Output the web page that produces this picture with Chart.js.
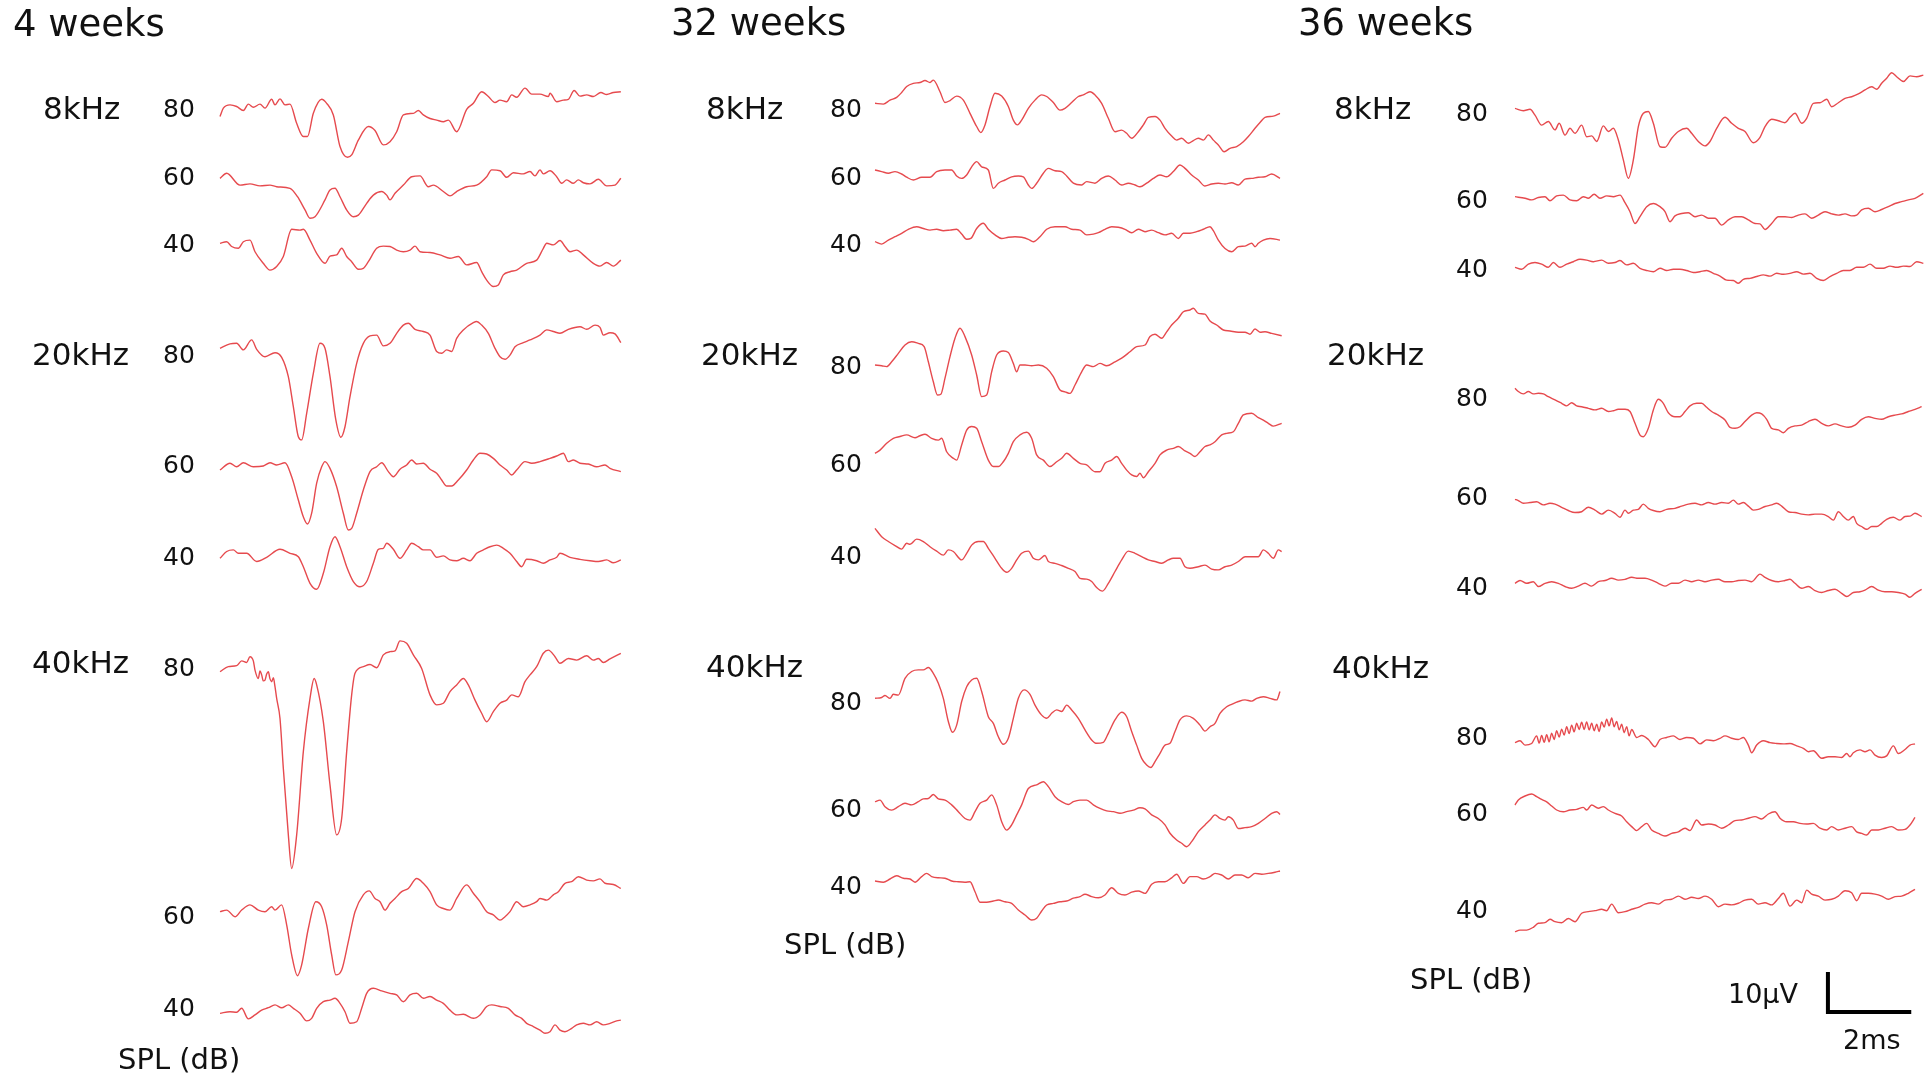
<!DOCTYPE html>
<html>
<head>
<meta charset="utf-8">
<script src="https://cdn.jsdelivr.net/npm/chart.js@4.4.1/dist/chart.umd.min.js"></script>
<style>
html, body { margin: 0; padding: 0; background: #fff; }
body { width: 1926px; height: 1081px; position: relative; overflow: hidden; font-family: "DejaVu Sans", Verdana, sans-serif; color: #111; }
canvas { position: absolute; top: 0; }
.lbl { position: absolute; white-space: nowrap; line-height: 1; transform: translateY(-50%); }
</style>
</head>
<body>
<canvas id="p4" width="640" height="1081" style="left:0px"></canvas>
<canvas id="p32" width="640" height="1081" style="left:655px"></canvas>
<canvas id="p36" width="631" height="1081" style="left:1295px"></canvas>
<script>
// Etiquetas del gráfico
const ages = ['4 weeks', '32 weeks', '36 weeks'];
const freqs = ['8kHz', '20kHz', '40kHz'];
const levels = ['80', '60', '40'];
const axisLabel = 'SPL (dB)';
const scaleBarUV = 10;
const scaleBarMs = 2;

// Trazos ABR: [tiempo (ms), amplitud (µV)]
// 4 semanas
const w4_8k_80 = [[0,-0.8],[0.08,1.3],[0.24,2.1],[0.4,1.7],[0.56,0.7],[0.68,2.3],[0.8,1.5],[0.96,2.3],[1.08,1.3],[1.24,3.5],[1.32,2.1],[1.44,3.6],[1.56,2.1],[1.68,2.3],[1.84,-2.5],[2.0,-5.8],[2.1,-5.8],[2.24,0],[2.44,3.5],[2.56,2.5],[2.72,-0.4],[2.88,-8.3],[3.06,-11],[3.16,-10.4],[3.32,-6.7],[3.56,-3.3],[3.72,-4.3],[3.92,-7.9],[4.08,-7.1],[4.24,-4.6],[4.4,-0.4],[4.64,0],[4.76,0.7],[4.88,-0.4],[5.04,-1.3],[5.2,-1.7],[5.36,-2.1],[5.48,-1.7],[5.68,-4.6],[5.92,1.0],[6.08,2.5],[6.28,5.4],[6.44,4.2],[6.6,2.7],[6.72,3.3],[6.88,2.9],[7.0,4.6],[7.12,4.0],[7.32,6.3],[7.48,4.8],[7.68,4.8],[7.88,4.2],[7.92,5.0],[8.08,2.9],[8.24,3.3],[8.36,3.5],[8.5,5.7],[8.64,4.3],[8.8,4.6],[8.96,4.2],[9.14,5.2],[9.28,4.7],[9.44,5.2],[9.62,5.4]];
const w4_8k_60 = [[0,0],[0.16,1.25],[0.48,-1.7],[0.72,-1.4],[0.96,-1.9],[1.2,-1.7],[1.36,-2.1],[1.68,-2.5],[1.86,-4.6],[2.04,-7.9],[2.16,-10],[2.28,-9.6],[2.52,-5.4],[2.64,-2.9],[2.76,-2.5],[2.88,-4.6],[3.04,-7.9],[3.2,-9.6],[3.32,-9.2],[3.52,-6.25],[3.68,-4.2],[3.88,-3.3],[4.0,-4.2],[4.08,-5.4],[4.2,-3.75],[4.4,-1.7],[4.6,0.4],[4.8,0.6],[5.0,-2.1],[5.12,-1.7],[5.36,-3.3],[5.52,-4.4],[5.68,-3.3],[5.92,-2.1],[6.16,-1.7],[6.4,0.4],[6.52,2.1],[6.72,1.9],[6.88,0.25],[7.04,1.4],[7.28,1.1],[7.44,1.7],[7.56,0.6],[7.68,2.1],[7.76,1.1],[7.92,1.9],[8.08,0.4],[8.2,-1.25],[8.32,-0.4],[8.48,-1.25],[8.6,-0.4],[8.72,-1.1],[8.88,-1.4],[9.08,-0.25],[9.28,-1.9],[9.48,-1.7],[9.62,0]];
const w4_8k_40 = [[0,0],[0.16,0.4],[0.28,-0.8],[0.44,-1.25],[0.56,0.4],[0.72,0.8],[0.84,-2.1],[1.04,-5],[1.2,-6.7],[1.36,-5.8],[1.52,-3.3],[1.72,3.5],[1.92,3.3],[2.0,3.5],[2.16,0.8],[2.32,-2.5],[2.52,-5],[2.64,-3.2],[2.8,-2.9],[2.92,-1.25],[3.04,-3.3],[3.16,-4.6],[3.32,-6.5],[3.44,-6.25],[3.56,-4.6],[3.76,-1.25],[3.92,-0.7],[4.08,-0.8],[4.24,-1.7],[4.4,-2.1],[4.56,-1.7],[4.68,-0.7],[4.8,-2.1],[5.04,-2.3],[5.28,-2.9],[5.52,-3.75],[5.72,-3.3],[5.92,-5.4],[6.16,-4.8],[6.28,-7.1],[6.4,-9.2],[6.56,-10.8],[6.68,-10.4],[6.8,-7.9],[6.96,-7.1],[7.12,-6.7],[7.36,-5],[7.6,-4.2],[7.76,-1.25],[7.84,0],[8.0,-0.4],[8.16,0.7],[8.28,-0.8],[8.4,-2.1],[8.56,-1.7],[8.72,-2.9],[8.96,-5],[9.12,-5.7],[9.28,-4.8],[9.44,-5.7],[9.62,-4.2]];
const w4_20k_80 = [[0,0],[0.24,1.1],[0.4,1.25],[0.56,-0.4],[0.76,2.1],[0.88,-0.25],[1.08,-2.1],[1.32,-1.1],[1.48,-2.25],[1.64,-7.1],[1.76,-14.6],[1.88,-22.1],[1.96,-22.9],[2.08,-16.25],[2.24,-6.25],[2.4,1.25],[2.52,0],[2.64,-7.1],[2.78,-17.9],[2.9,-22.25],[3.0,-19.6],[3.12,-12.1],[3.28,-3.75],[3.44,1.25],[3.6,3.1],[3.76,3.3],[3.92,0.6],[4.08,1.25],[4.24,3.75],[4.4,5.8],[4.52,6.25],[4.68,4.75],[4.88,4.2],[5.04,3.3],[5.2,-0.8],[5.32,-1.25],[5.44,-0.4],[5.56,-0.8],[5.68,2.5],[5.84,4.6],[6.08,6.4],[6.16,6.7],[6.28,5.8],[6.44,3.75],[6.6,0],[6.72,-2.1],[6.84,-2.75],[6.96,-1.7],[7.08,0.4],[7.28,1.4],[7.44,2.1],[7.68,3.3],[7.84,4.6],[8.0,4.2],[8.16,3.75],[8.36,4.75],[8.64,5.4],[8.8,4.75],[9.0,5.8],[9.12,5.25],[9.2,3.3],[9.36,3.9],[9.48,3.6],[9.62,1.4]];
const w4_20k_60 = [[0,0],[0.24,1.7],[0.4,0.8],[0.56,1.8],[0.8,0.8],[1.04,1.0],[1.2,1.8],[1.36,1.25],[1.56,1.8],[1.72,-1.7],[1.88,-7.5],[2.0,-11.7],[2.1,-13.5],[2.2,-10.8],[2.32,-3.3],[2.44,0.8],[2.52,2.1],[2.64,0.4],[2.8,-4.2],[2.96,-10.8],[3.08,-15],[3.16,-14.6],[3.28,-10.8],[3.44,-5],[3.6,-0.4],[3.76,0.8],[3.88,1.8],[4.04,-0.4],[4.16,-1.7],[4.32,0.2],[4.48,1.25],[4.6,2.5],[4.72,1.5],[4.88,1.7],[5.04,0.2],[5.2,-0.8],[5.32,-2.5],[5.44,-4],[5.56,-4],[5.72,-2.5],[5.92,0],[6.08,2.5],[6.24,4.2],[6.4,4.0],[6.56,2.9],[6.72,1.25],[6.88,0],[7.0,-1.25],[7.12,0],[7.32,2.1],[7.48,1.7],[7.68,2.1],[7.92,2.9],[8.08,3.5],[8.24,4.2],[8.36,2.1],[8.48,2.5],[8.64,1.7],[8.84,1.5],[9.04,0.8],[9.24,1.25],[9.36,0.4],[9.62,-0.4]];
const w4_20k_40 = [[0,0],[0.16,1.7],[0.32,2.1],[0.44,1.25],[0.64,1.25],[0.88,-0.8],[1.12,0.25],[1.44,2.25],[1.68,1.25],[1.88,0.4],[2.0,-2.1],[2.16,-6.25],[2.32,-7.75],[2.48,-3.75],[2.64,2.9],[2.76,5.4],[2.88,2.9],[3.04,-2.1],[3.2,-5.8],[3.36,-7.1],[3.52,-5.8],[3.68,-1.25],[3.8,2.25],[3.92,2.5],[4.0,3.75],[4.16,2.25],[4.32,0],[4.48,2.1],[4.6,3.75],[4.76,2.9],[4.88,2.1],[5.04,2.1],[5.2,0.25],[5.36,0.6],[5.52,-0.4],[5.68,-0.6],[5.84,0],[6.0,-0.6],[6.16,1.25],[6.32,2.1],[6.48,2.9],[6.64,3.3],[6.8,2.5],[6.96,1.25],[7.12,-0.8],[7.24,-2.1],[7.36,-0.25],[7.6,-0.6],[7.76,-1.25],[7.92,-0.4],[8.08,0.25],[8.16,1.25],[8.4,0.25],[8.64,-0.25],[8.88,-0.6],[9.08,-0.8],[9.28,-0.4],[9.44,-1.1],[9.62,-0.4]];
const w4_40k_80 = [[0,0],[0.2,1.25],[0.4,1.5],[0.52,2.7],[0.64,2.3],[0.72,3.75],[0.8,2.7],[0.84,0.4],[0.92,-1.7],[0.96,0.2],[1.0,-0.8],[1.04,-2.3],[1.08,-2.1],[1.12,-0.6],[1.16,0],[1.2,-1.8],[1.24,-2.5],[1.28,-1.5],[1.32,-3.75],[1.36,-6.7],[1.44,-11.7],[1.52,-24.2],[1.64,-40.8],[1.72,-49.2],[1.84,-40.8],[2.0,-20],[2.16,-6.7],[2.26,-1.7],[2.32,-3.3],[2.48,-12.5],[2.64,-28.3],[2.8,-40.8],[2.92,-36.7],[3.04,-20],[3.16,-5.8],[3.24,-0.4],[3.44,1.25],[3.6,1.8],[3.76,1.0],[3.92,4.2],[4.08,5],[4.2,5.2],[4.32,7.7],[4.48,7.1],[4.64,4.2],[4.84,0.8],[5.04,-5.8],[5.2,-8.3],[5.36,-7.9],[5.52,-5],[5.68,-3.3],[5.84,-1.7],[5.96,-3.3],[6.12,-7.1],[6.28,-10.4],[6.4,-12.5],[6.56,-10],[6.72,-7.9],[6.88,-7.1],[7.0,-5.8],[7.16,-6.25],[7.32,-2.5],[7.44,-0.8],[7.6,1.25],[7.76,4.6],[7.88,5.4],[8.04,3.75],[8.16,2.1],[8.36,3.3],[8.56,2.9],[8.8,4.0],[8.96,2.9],[9.08,3.3],[9.2,2.3],[9.36,3.2],[9.62,4.6]];
const w4_40k_60 = [[0,0],[0.16,0.4],[0.36,-1.25],[0.52,0.4],[0.72,1.7],[0.92,0.4],[1.08,0],[1.24,1.25],[1.32,0.4],[1.48,1.7],[1.6,-3.3],[1.72,-10.8],[1.86,-16],[1.96,-13.3],[2.12,-4.2],[2.3,2.5],[2.44,1.25],[2.56,-3.3],[2.68,-10.8],[2.78,-15.8],[2.92,-14.6],[3.08,-7.5],[3.24,0],[3.44,4.2],[3.58,5.2],[3.72,3.3],[3.84,2.5],[3.96,0.4],[4.08,2.1],[4.2,3.3],[4.36,5],[4.52,5.8],[4.72,8.3],[4.88,7.1],[5.04,5],[5.2,1.7],[5.36,0.8],[5.52,0.4],[5.68,3.3],[5.92,6.7],[6.08,4.6],[6.24,2.5],[6.4,0],[6.56,-0.8],[6.72,-2.1],[6.84,-1.25],[6.96,0],[7.12,2.5],[7.28,1.25],[7.44,1.7],[7.6,2.5],[7.68,3.3],[7.84,2.9],[8.0,4.2],[8.12,5],[8.28,7.1],[8.44,7.5],[8.6,8.75],[8.8,7.9],[8.96,7.7],[9.12,8.2],[9.24,7.1],[9.44,6.8],[9.62,5.8]];
const w4_40k_40 = [[0,0],[0.24,0.4],[0.4,0.25],[0.52,1.25],[0.68,-1.4],[0.84,-0.4],[1.0,0.8],[1.16,1.4],[1.32,2.1],[1.48,1.4],[1.64,2.1],[1.76,1.25],[1.92,0],[2.08,-1.9],[2.2,-1.25],[2.32,1.25],[2.48,2.9],[2.64,3.3],[2.76,3.75],[2.88,2.5],[3.0,0.4],[3.12,-2.5],[3.28,-2.1],[3.4,1.25],[3.52,5],[3.68,6.25],[3.88,5.6],[4.08,5],[4.24,4.6],[4.4,2.9],[4.56,4.6],[4.72,5],[4.88,3.75],[5.04,4.2],[5.2,3.3],[5.36,2.5],[5.52,0.8],[5.68,-0.4],[5.84,-0.25],[6.08,-1.25],[6.24,-0.4],[6.4,1.7],[6.52,2.1],[6.72,1.7],[6.92,1.25],[7.08,-0.4],[7.24,-1.25],[7.36,-2.5],[7.52,-3.3],[7.68,-4.2],[7.8,-5],[7.92,-4.6],[8.04,-2.9],[8.16,-4.2],[8.28,-4.6],[8.44,-3.75],[8.56,-2.9],[8.72,-2.5],[8.88,-2.9],[9.04,-2.1],[9.2,-2.9],[9.36,-2.5],[9.52,-1.9],[9.62,-1.7]];

// 32 semanas
const w32_8k_80 = [[0,0],[0.2,-0.2],[0.36,0.8],[0.52,1.5],[0.64,2.7],[0.76,4.2],[0.92,5],[1.08,5.2],[1.2,5.7],[1.32,5.2],[1.4,5.8],[1.56,2.9],[1.68,0.2],[1.8,0.7],[1.96,1.8],[2.12,0.8],[2.28,-2.5],[2.44,-5.8],[2.54,-7.3],[2.64,-5.4],[2.76,-0.8],[2.88,2.5],[3.04,1.8],[3.2,-0.8],[3.32,-4.2],[3.42,-5.4],[3.52,-4.2],[3.68,-1.25],[3.84,0.8],[4.0,2.1],[4.12,1.7],[4.28,0.2],[4.44,-1.7],[4.56,-1.25],[4.72,0.2],[4.88,1.7],[5.0,2.1],[5.16,2.9],[5.28,2.1],[5.44,0],[5.6,-3.75],[5.76,-7.1],[5.92,-6.7],[6.04,-7.5],[6.16,-8.75],[6.32,-7.1],[6.44,-5.4],[6.56,-3.5],[6.72,-3.3],[6.84,-4.2],[6.96,-6.25],[7.12,-8.2],[7.24,-9.2],[7.36,-8.75],[7.52,-10],[7.64,-9.3],[7.76,-8.75],[7.88,-9.2],[8.0,-7.9],[8.12,-9.2],[8.24,-10.4],[8.38,-12.1],[8.52,-11.25],[8.68,-10.8],[8.84,-9.6],[8.96,-8.3],[9.12,-6.25],[9.24,-4.8],[9.36,-3.5],[9.56,-3.2],[9.72,-2.5]];
const w32_8k_60 = [[0,0],[0.16,-0.4],[0.32,-0.8],[0.48,-0.4],[0.64,-1.0],[0.76,-1.8],[0.92,-2.5],[1.12,-1.8],[1.32,-1.8],[1.48,-0.4],[1.68,0],[1.84,0],[1.96,-1.5],[2.08,-2.1],[2.2,-1.25],[2.32,0.8],[2.44,2.1],[2.56,0.8],[2.72,0],[2.84,-4.6],[2.96,-3.3],[3.12,-2.5],[3.28,-1.7],[3.44,-1.5],[3.56,-1.7],[3.68,-3.75],[3.76,-4.6],[3.88,-3.3],[4.04,-0.8],[4.16,0.4],[4.32,-0.2],[4.48,-0.4],[4.6,-1.5],[4.76,-3.3],[4.96,-3.75],[5.08,-2.9],[5.28,-3.3],[5.44,-2.1],[5.6,-1.5],[5.76,-2.5],[5.92,-3.75],[6.08,-3.3],[6.24,-3.75],[6.36,-4.2],[6.52,-3.3],[6.68,-2.1],[6.84,-1.25],[7.0,-1.7],[7.16,-0.4],[7.32,1.25],[7.44,0.4],[7.6,-1.25],[7.76,-2.5],[7.92,-4.0],[8.08,-3.5],[8.24,-3.3],[8.4,-3.5],[8.56,-3.2],[8.72,-3.75],[8.88,-2.3],[9.04,-2.1],[9.2,-1.8],[9.36,-1.7],[9.52,-1.0],[9.72,-2.1]];
const w32_8k_40 = [[0,0],[0.16,-0.6],[0.32,0.4],[0.48,1.25],[0.64,2.1],[0.8,3.1],[1.0,3.75],[1.16,3.3],[1.32,2.9],[1.48,3.1],[1.64,2.75],[1.8,2.9],[1.96,3.1],[2.08,1.9],[2.2,0.6],[2.3,0.8],[2.44,3.3],[2.6,4.6],[2.72,3.1],[2.88,1.7],[3.04,0.8],[3.2,1.1],[3.36,1.25],[3.52,1.1],[3.68,0.6],[3.8,0],[3.96,1.25],[4.12,3.1],[4.32,3.75],[4.56,3.75],[4.72,3.1],[4.92,2.9],[5.08,1.7],[5.24,1.9],[5.36,2.25],[5.52,3.1],[5.68,3.75],[5.84,3.6],[6.0,3.1],[6.16,2.25],[6.32,3.1],[6.48,2.5],[6.64,2.9],[6.8,2.25],[6.96,1.7],[7.12,2.1],[7.28,0.8],[7.4,2.1],[7.56,2.1],[7.72,2.5],[7.88,3.1],[8.04,3.75],[8.12,2.75],[8.24,0.4],[8.4,-1.7],[8.56,-2.5],[8.72,-1.25],[8.88,-1.1],[9.04,-0.4],[9.12,-1.25],[9.2,-0.4],[9.32,0.4],[9.48,0.8],[9.72,0.4]];
const w32_20k_80 = [[0,0],[0.16,-0.2],[0.28,-0.4],[0.4,0.8],[0.56,2.9],[0.72,5],[0.88,5.8],[1.04,5.4],[1.18,4.6],[1.28,0.8],[1.4,-4.2],[1.5,-7.5],[1.58,-7.3],[1.68,-3.3],[1.8,2.1],[1.92,6.7],[2.04,9.2],[2.16,7.1],[2.32,2.5],[2.44,-2.5],[2.56,-7.9],[2.68,-7.5],[2.8,-1.7],[2.92,2.5],[3.08,3.5],[3.2,3.1],[3.32,0.4],[3.4,-1.7],[3.48,0],[3.6,0],[3.76,-0.2],[3.92,0],[4.12,-0.8],[4.28,-2.9],[4.44,-6.25],[4.56,-6.7],[4.68,-7.1],[4.8,-5],[4.96,-1.7],[5.08,0],[5.24,-0.4],[5.4,0.4],[5.56,-0.2],[5.76,0.8],[5.92,1.7],[6.12,3.3],[6.28,4.6],[6.48,5],[6.6,7.1],[6.72,7.7],[6.88,6.7],[7.0,8.3],[7.12,10],[7.28,11.7],[7.4,13.3],[7.56,13.75],[7.64,14.2],[7.76,12.9],[7.92,12.7],[8.04,11],[8.2,10],[8.36,8.75],[8.52,8.5],[8.72,8.2],[8.88,8.2],[9.0,7.7],[9.12,9],[9.24,8.2],[9.36,8.3],[9.52,7.9],[9.76,7.3]];
const w32_20k_60 = [[0,0],[0.12,0.8],[0.28,2.5],[0.44,3.75],[0.6,4.2],[0.76,4.6],[0.96,3.9],[1.08,4.4],[1.2,4.75],[1.36,3.75],[1.52,3.3],[1.6,3.75],[1.72,0.4],[1.88,-1.25],[1.96,-1.7],[2.08,2.1],[2.2,5.8],[2.32,6.7],[2.44,6.25],[2.56,2.9],[2.72,-1.7],[2.84,-3.3],[2.96,-3.3],[3.08,-2.1],[3.2,0],[3.32,2.9],[3.48,4.6],[3.64,5.25],[3.76,3.75],[3.88,-0.4],[4.04,-1.7],[4.2,-3.3],[4.36,-2.1],[4.48,-1.25],[4.6,0],[4.76,-1.25],[4.92,-2.5],[5.08,-2.9],[5.28,-4.6],[5.4,-4.6],[5.52,-2.5],[5.68,-1.7],[5.8,-0.8],[5.92,-2.5],[6.04,-4.2],[6.16,-5.4],[6.28,-5.8],[6.36,-5],[6.44,-6.1],[6.56,-4.6],[6.72,-2.5],[6.84,-0.4],[7.0,0.8],[7.16,1.25],[7.28,1.7],[7.44,0.6],[7.56,0],[7.68,-0.8],[7.8,0.4],[7.92,1.7],[8.04,2.1],[8.16,2.9],[8.32,4.6],[8.44,5],[8.6,5.4],[8.72,7.5],[8.84,9.6],[9.04,10],[9.2,8.9],[9.32,8.3],[9.44,7.5],[9.56,6.8],[9.76,7.5]];
const w32_20k_40 = [[0,0],[0.16,-2.1],[0.32,-3.3],[0.48,-4.3],[0.64,-5.2],[0.76,-3.75],[0.84,-4.0],[1.0,-2.7],[1.16,-3.3],[1.32,-4.6],[1.48,-5.7],[1.64,-6.7],[1.76,-5.4],[1.88,-5.8],[2.08,-7.9],[2.2,-6.25],[2.32,-4.2],[2.48,-3.3],[2.6,-3.3],[2.72,-5],[2.88,-7.5],[3.04,-10],[3.16,-11],[3.28,-10],[3.4,-7.9],[3.52,-6.25],[3.68,-5.7],[3.8,-7.5],[3.92,-7.9],[4.08,-6.8],[4.16,-8.3],[4.32,-8.75],[4.48,-9.3],[4.64,-10],[4.8,-10.8],[4.92,-12.5],[5.08,-12.7],[5.2,-13.3],[5.32,-14.8],[5.46,-15.7],[5.6,-13.75],[5.76,-10.8],[5.92,-7.9],[6.08,-5.7],[6.24,-6.25],[6.4,-7.1],[6.56,-7.9],[6.72,-8.3],[6.88,-8.75],[7.04,-7.9],[7.16,-7.5],[7.32,-7.5],[7.44,-9.6],[7.56,-10],[7.76,-9.6],[7.92,-9.2],[8.08,-10.2],[8.24,-10.4],[8.4,-9.6],[8.56,-9.2],[8.72,-8.3],[8.88,-7.1],[9.04,-7.1],[9.2,-7.1],[9.32,-5.4],[9.44,-6.25],[9.56,-7.5],[9.68,-5.4],[9.76,-5.8]];
const w32_40k_80 = [[0,0],[0.16,0.2],[0.24,0.7],[0.36,0],[0.44,1.0],[0.56,0.8],[0.72,5],[0.88,6.7],[1.04,7.1],[1.16,7.1],[1.28,7.7],[1.4,6.25],[1.52,3.75],[1.64,0],[1.76,-5.8],[1.86,-8.5],[1.96,-6.7],[2.08,-0.8],[2.2,2.9],[2.32,4.6],[2.44,5],[2.56,1.7],[2.72,-4.6],[2.84,-6.25],[2.96,-9.6],[3.08,-11.5],[3.2,-10],[3.32,-5],[3.44,0],[3.58,2.1],[3.72,1.0],[3.84,-1.7],[4.0,-4.2],[4.12,-5],[4.24,-3.75],[4.36,-2.9],[4.48,-3.3],[4.6,-1.7],[4.72,-2.9],[4.88,-5],[5.04,-7.9],[5.2,-10.4],[5.32,-11.25],[5.48,-11],[5.6,-8.75],[5.76,-5.4],[5.92,-3.5],[6.04,-4.6],[6.16,-8.3],[6.28,-11.7],[6.4,-15],[6.52,-16.7],[6.62,-17.3],[6.72,-15.8],[6.84,-13.75],[6.96,-11.7],[7.08,-11.25],[7.2,-8.3],[7.32,-5.4],[7.48,-4.4],[7.64,-5],[7.8,-6.7],[7.92,-8.2],[8.04,-7.1],[8.16,-6.25],[8.28,-3.75],[8.44,-2.1],[8.56,-1.5],[8.72,-0.8],[8.88,-0.4],[9.04,-0.7],[9.16,0],[9.32,0.4],[9.48,0],[9.64,-0.4],[9.72,1.7]];
const w32_40k_60 = [[0,0],[0.12,0.4],[0.24,-1.25],[0.4,-2.1],[0.56,-1.25],[0.72,-0.4],[0.88,-0.8],[1.04,0],[1.16,0.7],[1.28,0.8],[1.4,1.8],[1.52,0.7],[1.68,0.4],[1.84,-0.8],[2.0,-2.5],[2.16,-4.2],[2.28,-4.6],[2.4,-2.5],[2.52,-0.4],[2.68,0.4],[2.8,1.7],[2.92,-0.8],[3.04,-5],[3.16,-7.1],[3.28,-5.8],[3.4,-3.3],[3.52,-0.8],[3.68,3.3],[3.88,4.2],[4.04,5],[4.16,3.75],[4.32,1.25],[4.48,0],[4.64,-0.7],[4.76,0],[4.92,0.4],[5.08,0.4],[5.24,-0.8],[5.4,-1.7],[5.56,-2.3],[5.72,-2.5],[5.88,-2.9],[6.04,-2.5],[6.2,-2.1],[6.36,-1.5],[6.48,-1.8],[6.64,-3.3],[6.8,-4.2],[6.96,-5.8],[7.08,-7.9],[7.24,-9.6],[7.36,-10.4],[7.48,-11.25],[7.6,-10],[7.76,-7.5],[7.92,-5.8],[8.04,-4.6],[8.16,-3.3],[8.28,-4.2],[8.4,-4.6],[8.48,-3.75],[8.6,-4.6],[8.72,-6.7],[8.88,-6.5],[9.04,-6.25],[9.2,-5.4],[9.36,-4.2],[9.52,-2.9],[9.64,-2.5],[9.72,-3.2]];
const w32_40k_40 = [[0,0],[0.2,-0.3],[0.36,0.5],[0.52,1.3],[0.68,0.7],[0.84,0.5],[0.96,-0.3],[1.12,1.1],[1.24,1.9],[1.36,1.1],[1.52,0.8],[1.68,0.7],[1.84,0],[2.0,-0.2],[2.16,-0.3],[2.28,-0.2],[2.4,-2.7],[2.52,-5.3],[2.68,-5.3],[2.84,-5],[2.96,-4.75],[3.12,-5.2],[3.28,-5.6],[3.44,-7.25],[3.6,-8.5],[3.76,-9.75],[3.88,-9.3],[4.0,-7.5],[4.12,-6],[4.28,-5.6],[4.44,-5.2],[4.6,-5],[4.76,-4.3],[4.92,-3.9],[5.04,-3.3],[5.2,-3.9],[5.36,-4.2],[5.52,-3.5],[5.68,-1.7],[5.84,-3.1],[6.0,-3.5],[6.16,-2.8],[6.32,-2.5],[6.48,-3.1],[6.64,-0.8],[6.8,-0.2],[6.96,-0.2],[7.12,0.8],[7.24,1.7],[7.4,-0.6],[7.56,1.1],[7.72,1.1],[7.88,0.5],[8.04,1.1],[8.16,1.9],[8.32,1.5],[8.48,0.5],[8.64,1.5],[8.8,1.5],[8.96,0.8],[9.12,1.9],[9.28,1.7],[9.44,1.9],[9.6,2.2],[9.72,2.5]];

// 36 semanas
const w36_8k_80 = [[0,0],[0.2,-0.6],[0.36,-0.25],[0.48,-1.7],[0.64,-4.2],[0.8,-3.3],[0.96,-5.4],[1.06,-3.75],[1.2,-6.7],[1.32,-5],[1.44,-6.25],[1.6,-4.2],[1.72,-7.1],[1.84,-6.9],[1.96,-8.3],[2.12,-4.4],[2.24,-5.8],[2.36,-5],[2.48,-7.9],[2.6,-12.9],[2.72,-17.5],[2.84,-12.9],[2.96,-4.6],[3.08,-1.25],[3.2,-0.8],[3.32,-3.75],[3.48,-9.6],[3.6,-9.75],[3.76,-7.5],[3.92,-5.8],[4.12,-5],[4.24,-6.25],[4.4,-8.3],[4.56,-9.4],[4.68,-8.3],[4.84,-5],[5.04,-2.25],[5.2,-3.75],[5.36,-5],[5.52,-5.8],[5.72,-8.6],[5.88,-7.25],[6.0,-4.6],[6.16,-2.75],[6.32,-3.1],[6.48,-3.6],[6.6,-2.25],[6.72,-1.25],[6.88,-3.75],[7.0,-2.5],[7.16,1.25],[7.32,1.4],[7.48,2.25],[7.6,0.4],[7.76,1.4],[7.92,2.5],[8.08,2.9],[8.24,3.6],[8.4,4.6],[8.56,5.4],[8.68,4.75],[8.8,6.25],[8.92,7.5],[9.04,8.9],[9.16,7.9],[9.32,6.7],[9.48,8.1],[9.64,7.9],[9.8,8.3]];
const w36_8k_60 = [[0,0],[0.24,-0.4],[0.4,-0.8],[0.56,-0.2],[0.72,0],[0.84,-1.0],[1.0,0.2],[1.16,0.4],[1.32,-0.8],[1.48,-1.0],[1.64,0],[1.76,-0.4],[1.9,0.6],[2.04,-0.4],[2.2,0.2],[2.36,0],[2.52,0.4],[2.64,-1.5],[2.76,-3.75],[2.88,-6.7],[3.0,-5],[3.16,-2.5],[3.32,-1.7],[3.48,-2.5],[3.6,-3.75],[3.72,-6.25],[3.84,-4.8],[4.0,-4.2],[4.16,-4.0],[4.32,-5],[4.48,-4.6],[4.64,-5.4],[4.8,-5.4],[4.96,-7.1],[5.12,-5.8],[5.28,-5],[5.44,-5],[5.6,-5.8],[5.76,-6.7],[5.88,-6.8],[6.0,-8.2],[6.16,-6.7],[6.32,-5],[6.48,-5],[6.64,-5.2],[6.8,-4.6],[6.96,-4.3],[7.12,-5.4],[7.28,-4.6],[7.44,-3.75],[7.6,-4.3],[7.76,-4.6],[7.92,-4.3],[8.08,-4.8],[8.2,-4.6],[8.32,-3.3],[8.48,-2.9],[8.64,-3.75],[8.8,-3.2],[8.96,-2.5],[9.12,-1.7],[9.28,-1.25],[9.44,-0.8],[9.6,-0.4],[9.8,0.8]];
const w36_8k_40 = [[0,0],[0.16,-0.5],[0.32,0.8],[0.48,1.2],[0.64,0.8],[0.8,0],[0.92,1.2],[1.08,0],[1.24,0.8],[1.4,1.4],[1.56,2.0],[1.72,1.8],[1.88,1.4],[2.08,1.8],[2.24,1.0],[2.4,1.2],[2.52,1.7],[2.68,0.6],[2.84,1.0],[3.0,-0.25],[3.16,-0.8],[3.32,-1.1],[3.48,-0.25],[3.64,-0.8],[3.8,-0.5],[3.96,-0.5],[4.12,-0.8],[4.28,-1.3],[4.44,-1.1],[4.6,-0.8],[4.76,-1.5],[4.92,-2.2],[5.08,-3.2],[5.24,-3.3],[5.36,-4.0],[5.48,-3.0],[5.64,-2.75],[5.8,-2.3],[5.96,-1.9],[6.12,-2.2],[6.28,-1.5],[6.44,-1.75],[6.6,-1.5],[6.76,-1.1],[6.92,-1.7],[7.08,-1.5],[7.24,-2.75],[7.4,-3.3],[7.56,-2.3],[7.72,-1.5],[7.88,-0.8],[8.04,-0.8],[8.2,0],[8.36,0],[8.52,0.8],[8.68,-0.25],[8.84,-0.25],[9.0,0.3],[9.16,0],[9.32,0.3],[9.48,0.2],[9.64,1.4],[9.8,1.0]];
const w36_20k_80 = [[0,0],[0.08,-0.8],[0.2,-1.4],[0.32,-0.8],[0.44,-1.4],[0.56,-1.25],[0.68,-1.4],[0.8,-2.1],[0.96,-2.9],[1.12,-3.75],[1.24,-4.4],[1.36,-3.6],[1.48,-4.4],[1.6,-4.6],[1.76,-5],[1.92,-5.4],[2.08,-5],[2.24,-5.8],[2.36,-5.6],[2.48,-5.25],[2.64,-5.25],[2.76,-5.8],[2.88,-8.75],[3.0,-11.7],[3.08,-12.1],[3.2,-10],[3.32,-5.4],[3.44,-2.75],[3.56,-3.75],[3.68,-6.1],[3.84,-7.1],[3.96,-7.1],[4.08,-5.8],[4.2,-4.4],[4.36,-3.75],[4.48,-3.75],[4.6,-4.75],[4.72,-5.8],[4.88,-6.7],[5.04,-7.9],[5.16,-9.75],[5.28,-10],[5.4,-9.6],[5.52,-8.3],[5.68,-6.7],[5.8,-6.1],[5.92,-6.4],[6.04,-7.75],[6.16,-10],[6.32,-10.4],[6.44,-11.1],[6.56,-10],[6.72,-9.4],[6.88,-9.2],[7.04,-8.3],[7.2,-7.75],[7.36,-8.75],[7.52,-9.4],[7.68,-8.9],[7.84,-9.4],[8.0,-9.75],[8.16,-9.2],[8.32,-7.75],[8.48,-7.1],[8.64,-7.5],[8.8,-7.75],[8.96,-7.1],[9.12,-6.7],[9.28,-6.4],[9.44,-5.8],[9.6,-5.25],[9.76,-4.6]];
const w36_20k_60 = [[0,0],[0.08,-0.3],[0.2,-1.0],[0.36,-0.8],[0.52,-0.6],[0.68,-1.4],[0.84,-1.0],[0.96,-1.2],[1.12,-2.0],[1.28,-2.8],[1.44,-3.3],[1.6,-3.1],[1.76,-2.0],[1.92,-2.7],[2.08,-3.7],[2.24,-2.7],[2.4,-3.5],[2.52,-4.5],[2.64,-2.7],[2.72,-3.5],[2.84,-2.7],[2.96,-2.5],[3.08,-1.2],[3.2,-2.25],[3.32,-2.8],[3.48,-3.1],[3.64,-2.5],[3.84,-2.25],[4.0,-1.7],[4.16,-1.2],[4.32,-1.0],[4.48,-1.4],[4.64,-0.8],[4.8,-1.2],[4.96,-0.8],[5.12,-1.0],[5.24,-0.2],[5.36,-1.2],[5.48,-0.8],[5.6,-1.7],[5.72,-2.7],[5.84,-2.5],[6.0,-1.8],[6.16,-1.4],[6.28,-1.0],[6.4,-1.7],[6.56,-3.1],[6.72,-3.3],[6.88,-3.7],[7.04,-3.9],[7.2,-3.7],[7.36,-3.7],[7.52,-4.3],[7.64,-5.2],[7.76,-3.1],[7.88,-4.3],[8.0,-5.2],[8.12,-4.3],[8.2,-6],[8.32,-6.8],[8.44,-7.5],[8.56,-6.8],[8.68,-6.8],[8.8,-6],[8.92,-5],[9.08,-4.5],[9.24,-5.2],[9.36,-4.3],[9.48,-4.2],[9.6,-3.5],[9.76,-4.3]];
const w36_20k_40 = [[0,0],[0.12,0.7],[0.28,0],[0.44,0.4],[0.56,-0.8],[0.72,0],[0.88,0.4],[1.04,0],[1.2,-0.8],[1.36,-1.25],[1.52,-0.7],[1.68,0],[1.84,-0.7],[2.0,0.4],[2.16,0.7],[2.32,1.25],[2.48,0.8],[2.64,1.0],[2.8,1.5],[2.96,1.25],[3.12,1.25],[3.28,0.8],[3.44,0],[3.6,-0.7],[3.76,0],[3.92,0],[4.08,0.8],[4.24,0.4],[4.4,0.8],[4.56,0.4],[4.72,0.8],[4.88,1.0],[5.04,0.4],[5.2,0.4],[5.36,0.7],[5.52,0.8],[5.68,0.4],[5.88,2.3],[6.0,1.5],[6.16,0.7],[6.32,0.4],[6.48,0.7],[6.6,1.0],[6.72,0],[6.88,-1.25],[7.04,-0.8],[7.2,-1.8],[7.36,-2.3],[7.52,-1.8],[7.68,-1.5],[7.84,-2.5],[7.96,-3.3],[8.12,-2.3],[8.28,-2.1],[8.4,-1.7],[8.56,-0.8],[8.72,-1.7],[8.88,-2.1],[9.04,-2.1],[9.2,-2.3],[9.36,-2.7],[9.48,-3.5],[9.6,-2.5],[9.76,-1.5]];
const w36_40k_80 = [[0,0],[0.12,0.5],[0.24,-0.6],[0.4,-0.2],[0.52,1.7],[0.58,-0.1],[0.64,1.8],[0.7,0.1],[0.76,2.0],[0.82,0.2],[0.88,2.4],[0.94,0.8],[1.0,3.0],[1.06,1.4],[1.12,3.4],[1.18,1.9],[1.24,4.0],[1.3,2.3],[1.36,4.4],[1.42,2.7],[1.48,4.9],[1.54,3.3],[1.6,5.1],[1.66,3.3],[1.72,5.2],[1.78,3.2],[1.84,4.9],[1.9,3.0],[1.96,4.6],[2.02,2.8],[2.08,5.2],[2.14,3.9],[2.2,5.9],[2.26,4.2],[2.32,6.2],[2.38,4.0],[2.44,5.3],[2.5,3.2],[2.56,4.6],[2.62,2.5],[2.68,4.0],[2.74,1.7],[2.8,3.3],[2.92,1.3],[3.04,1.8],[3.2,0.8],[3.36,-1.0],[3.48,0.8],[3.64,1.3],[3.8,1.7],[3.96,0.8],[4.12,1.3],[4.28,1.1],[4.44,-0.3],[4.6,0.7],[4.76,0.5],[4.92,1.1],[5.04,1.7],[5.2,1.1],[5.36,0.8],[5.48,1.3],[5.6,-0.6],[5.68,-2.5],[5.8,-0.6],[5.96,0.5],[6.12,0],[6.28,-0.2],[6.44,-0.3],[6.6,-0.2],[6.76,-0.8],[6.92,-1.4],[7.04,-2.25],[7.16,-2.0],[7.36,-3.9],[7.52,-3.5],[7.68,-3.5],[7.84,-3.7],[7.96,-2.7],[8.04,-3.5],[8.12,-2.5],[8.28,-1.8],[8.4,-2.25],[8.52,-1.8],[8.64,-3.1],[8.8,-3.7],[8.92,-3.3],[9.08,-0.8],[9.2,-2.7],[9.36,-1.7],[9.48,-0.6],[9.6,-0.3]];
const w36_40k_60 = [[0,0],[0.08,1.25],[0.24,2.25],[0.4,2.75],[0.52,2.1],[0.64,1.4],[0.76,0.8],[0.88,-0.25],[1.0,-1.25],[1.16,-1.7],[1.32,-1.25],[1.48,-1.1],[1.64,-0.6],[1.72,-1.25],[1.84,0],[2.0,-0.8],[2.12,-0.4],[2.24,-1.25],[2.4,-2.1],[2.56,-2.75],[2.68,-4.2],[2.8,-5.4],[2.92,-6.4],[3.04,-5.4],[3.16,-4.6],[3.28,-6.25],[3.44,-7.1],[3.6,-7.75],[3.76,-7.1],[3.92,-6.7],[4.08,-5.8],[4.2,-6.4],[4.36,-3.75],[4.48,-5],[4.64,-4.75],[4.8,-5],[4.96,-5.8],[5.12,-5],[5.28,-3.9],[5.44,-3.75],[5.6,-3.3],[5.76,-2.9],[5.92,-3.5],[6.08,-2.25],[6.24,-1.7],[6.36,-3.3],[6.52,-4.2],[6.68,-4.2],[6.84,-4.6],[7.0,-4.75],[7.16,-4.6],[7.32,-5.8],[7.48,-6.25],[7.6,-5.4],[7.76,-6.25],[7.92,-5.8],[8.08,-5.4],[8.2,-6.7],[8.32,-7.1],[8.44,-7.5],[8.56,-6.25],[8.72,-6.25],[8.88,-5.8],[9.04,-5.4],[9.2,-6.25],[9.36,-6.1],[9.48,-5],[9.6,-3.1]];
const w36_40k_40 = [[0,0],[0.12,0.4],[0.28,0.4],[0.44,1.1],[0.56,2.1],[0.72,2.25],[0.84,3.1],[0.96,2.5],[1.12,2.25],[1.28,3.3],[1.44,2.5],[1.6,4.6],[1.76,5],[1.92,5.25],[2.08,5.6],[2.2,5.25],[2.32,6.9],[2.48,4.75],[2.64,5],[2.8,5.6],[2.96,6.1],[3.12,6.9],[3.28,7.25],[3.44,6.9],[3.6,7.9],[3.76,8.1],[3.92,8.9],[4.08,8.1],[4.24,8.6],[4.4,8.3],[4.56,8.9],[4.72,8.1],[4.88,6.25],[5.04,6.9],[5.2,6.7],[5.36,7.1],[5.52,7.9],[5.68,8.1],[5.84,6.9],[6.0,7.25],[6.16,6.7],[6.32,8.3],[6.44,9.6],[6.6,6.4],[6.76,7.9],[6.88,7.25],[7.0,10.4],[7.12,9.4],[7.28,8.9],[7.44,7.9],[7.6,8.1],[7.76,8.9],[7.92,10.25],[8.08,9.75],[8.2,7.75],[8.32,9.6],[8.48,9.6],[8.64,9.4],[8.8,8.9],[8.96,8.1],[9.12,8.75],[9.28,8.9],[9.44,9.6],[9.6,10.6]];

// Disposición: desplazamiento vertical (µV) de cada trazo dentro del panel
const PX_PER_MS = 41.667;
const PX_PER_UV = 4;
const TRACE_START_PX = 220;
const RED = '#e64a4e';

const panels = [
    {
        canvas: 'p4',
        traces: [[w4_8k_80, w4_8k_60, w4_8k_40], [w4_20k_80, w4_20k_60, w4_20k_40], [w4_40k_80, w4_40k_60, w4_40k_40]],
        offsets: [[-28.33, -44.58, -60.83], [-87.08, -117.5, -139.58], [-167.92, -227.92, -253.33]]
    },
    {
        canvas: 'p32',
        traces: [[w32_8k_80, w32_8k_60, w32_8k_40], [w32_20k_80, w32_20k_60, w32_20k_40], [w32_40k_80, w32_40k_60, w32_40k_40]],
        offsets: [[-25.83, -42.5, -60.42], [-91.25, -113.33, -132.08], [-174.58, -200.42, -220.25]]
    },
    {
        canvas: 'p36',
        traces: [[w36_8k_80, w36_8k_60, w36_8k_40], [w36_20k_80, w36_20k_60, w36_20k_40], [w36_40k_80, w36_40k_60, w36_40k_40]],
        offsets: [[-27.08, -49.17, -66.83], [-97.08, -124.83, -145.83], [-185.67, -201.25, -232.92]],
        scaleBar: { t: 7.51, v: -243 }
    }
];

// Posiciones de los textos (px)
const titlePos = [[13, 23], [671, 22], [1298, 22]];
const freqPos = [[[43, 108], [32, 354], [32, 662]], [[706, 108], [701, 354], [706, 666]], [[1334, 108], [1327, 354], [1332, 667]]];
const levelX = [163, 830, 1456];
const levelY = [[[108, 176, 243], [354, 464, 556], [667, 915, 1007]], [[108, 176, 243], [365, 463, 555], [701, 808, 885]], [[112, 199, 268], [397, 496, 586], [736, 812, 909]]];
const splPos = [[118, 1059], [784, 944], [1410, 979]];

function addText(text, x, y, size) {
    const el = document.createElement('div');
    el.className = 'lbl';
    el.textContent = text;
    el.style.left = x + 'px';
    el.style.top = y + 'px';
    el.style.fontSize = size + 'px';
    document.body.appendChild(el);
}

panels.forEach((panel, p) => {
    const canvas = document.getElementById(panel.canvas);
    const xMin = -TRACE_START_PX / PX_PER_MS;
    const xMax = xMin + canvas.width / PX_PER_MS;
    const yMin = -canvas.height / PX_PER_UV;

    const datasets = [];
    panel.traces.forEach((group, f) => {
        group.forEach((trace, l) => {
            const off = panel.offsets[f][l];
            datasets.push({
                label: ages[p] + ' ' + freqs[f] + ' ' + levels[l],
                data: trace.map(([t, v]) => ({ x: t, y: off + v })),
                borderColor: RED,
                borderWidth: 1.4,
                pointRadius: 0,
                cubicInterpolationMode: 'monotone',
                clip: false
            });
        });
    });

    if (panel.scaleBar) {
        const sb = panel.scaleBar;
        datasets.push({
            label: 'scale',
            data: [{ x: sb.t, y: sb.v }, { x: sb.t, y: sb.v - scaleBarUV }, { x: sb.t + scaleBarMs, y: sb.v - scaleBarUV }],
            borderColor: '#000',
            borderWidth: 4,
            pointRadius: 0,
            tension: 0,
            borderJoinStyle: 'miter',
            borderCapStyle: 'butt',
            clip: false
        });
    }

    new Chart(canvas.getContext('2d'), {
        type: 'line',
        data: { datasets },
        options: {
            responsive: false,
            animation: false,
            events: [],
            layout: { padding: 0 },
            plugins: { legend: { display: false }, tooltip: { enabled: false } },
            scales: {
                x: { type: 'linear', display: false, min: xMin, max: xMax },
                y: { type: 'linear', display: false, min: yMin, max: 0 }
            }
        }
    });

    addText(ages[p], titlePos[p][0], titlePos[p][1], 37);
    freqs.forEach((fq, f) => {
        addText(fq, freqPos[p][f][0], freqPos[p][f][1], 31);
        levels.forEach((lv, l) => addText(lv, levelX[p], levelY[p][f][l], 25));
    });
    addText(axisLabel, splPos[p][0], splPos[p][1], 29);
});

addText(scaleBarUV + 'µV', 1728, 993, 27);
addText(scaleBarMs + 'ms', 1843, 1039, 27);
</script>
</body>
</html>
